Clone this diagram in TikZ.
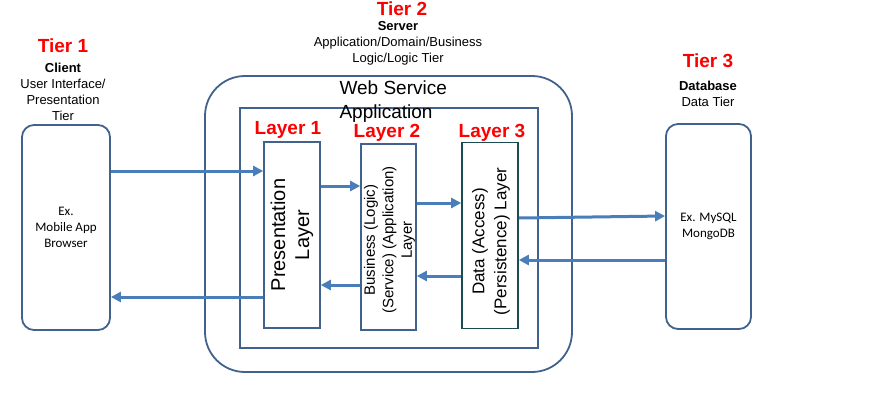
\documentclass[tikz,border=0pt]{standalone}
\usepackage{fontspec}
\setmainfont{Liberation Sans}
\newfontfamily\carlito{Carlito}
\usetikzlibrary{arrows.meta}
\definecolor{boxblue}{RGB}{65,98,140}
\definecolor{arrowblue}{RGB}{74,126,187}
\definecolor{tealedge}{RGB}{25,75,80}
\tikzset{
  tierbox/.style={draw=boxblue,line width=1.8pt,rounded corners=12pt,minimum width=88pt,minimum height=205pt,align=center,font=\carlito\fontsize{13}{16}\selectfont},
  layerbox/.style={draw=boxblue,line width=1.6pt,minimum width=56pt,minimum height=186pt},
  flow/.style={draw=arrowblue,line width=3pt,-{Triangle[length=10pt,width=10pt]}},
  tiertitle/.style={text=red,inner sep=0pt,font=\bfseries\fontsize{19}{22}\selectfont},
  tiernote/.style={align=center,inner sep=0pt,font=\fontsize{13}{16}\selectfont},
  layertitle/.style={text=red,font=\bfseries\fontsize{19}{22}\selectfont},
}
\begin{document}
\begin{tikzpicture}[x=1pt,y=-1pt]
        \useasboundingbox (0,0) rectangle (871,405);
        \node[tierbox] (client) at (66,227.5) {Ex.\\Mobile App\\Browser};
        \node[tierbox,minimum width=85pt] (db) at (708.5,226.5) {Ex. MySQL\\MongoDB};
        \node[draw=boxblue,line width=1.8pt,rounded corners=40pt,minimum width=367pt,minimum height=296pt] (server) at (388.5,224) {};
        \node[draw=boxblue,line width=1.8pt,minimum width=298pt,minimum height=240pt] (app) at (389,228) {};
        \node[layerbox] (pres) at (292,235) {};
        \node[layerbox,minimum width=55pt] (biz) at (388.5,237) {};
        \node[layerbox,draw=tealedge] (data) at (490,235.5) {};
        \node[rotate=90,align=center,font=\fontsize{20}{24}\selectfont] (presT) at (pres.center) {Presentation\\Layer};
        \node[rotate=90,align=center,font=\fontsize{15}{18.5}\selectfont] (bizT) at ([xshift=1pt,yshift=-3pt]biz.center) {Business (Logic)\\(Service) (Application)\\Layer};
        \node[rotate=90,align=center,font=\fontsize{17}{22}\selectfont] (dataT) at ([xshift=1pt,yshift=-6pt]data.center) {Data (Access)\\(Persistence) Layer};
        \node[tiertitle] (t1) at (63,46) {Tier 1};
        \node[tiernote] (t1n) at (63,92) {\textbf{Client}\\User Interface/\\Presentation\\Tier};
        \node[tiertitle] (t2) at (402,9) {Tier 2};
        \node[tiernote] (t2n) at (398,43) {\textbf{Server}\\Application/Domain/Business\\Logic/Logic Tier};
        \node[tiertitle] (t3) at (708,61) {Tier 3};
        \node[tiernote] (t3n) at (708,94) {\textbf{Database}\\Data Tier};
        \node[anchor=west,align=left,font=\fontsize{19}{24}\selectfont] (ws) at (336,102) {Web Service\\Application};
        \node[layertitle] (l1) at (288,130) {Layer 1};
        \node[layertitle] (l2) at (387,133) {Layer 2};
        \node[layertitle] (l3) at (492,133) {Layer 3};
        \draw[flow] (client.east |- 0,171) -- (pres.west |- 0,171);
        \draw[flow] (pres.west |- 0,297) -- (client.east |- 0,297);
        \draw[flow] (pres.east |- 0,186) -- (biz.west |- 0,186);
        \draw[flow] (biz.west |- 0,285) -- (pres.east |- 0,285);
        \draw[flow] (biz.east |- 0,203) -- (data.west |- 0,203);
        \draw[flow] (data.west |- 0,276) -- (biz.east |- 0,276);
        \draw[flow] (data.east |- 0,218) -- (db.west |- 0,216);
        \draw[flow] (db.west |- 0,260) -- (data.east |- 0,260);
        \end{tikzpicture}
\end{document}
